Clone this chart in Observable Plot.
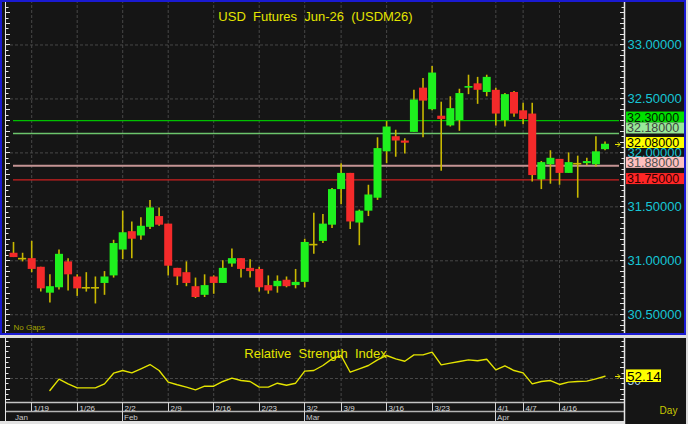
<!DOCTYPE html>
<html><head><meta charset="utf-8">
<script src="https://cdn.jsdelivr.net/npm/d3@7"></script>
<script src="https://cdn.jsdelivr.net/npm/@observablehq/plot@0.6"></script>
<style>
html,body{margin:0;padding:0;background:#dcdcdc;}
#wrap{position:relative;width:688px;height:424px;background:#dcdcdc;overflow:hidden;}
#wrap svg{position:absolute;left:0;display:block;}
#wrap svg text{white-space:pre;}
</style></head>
<body><div id="wrap"></div>
<script>
// ---------- data ----------
const opens  = [31.07,31.02,31.02,30.94,30.70,30.75,30.99,30.85,30.75,30.75,
                30.79,30.86,31.10,31.27,31.23,31.31,31.41,31.34,30.93,30.89,
                30.76,30.68,30.85,30.79,30.97,31.02,30.93,30.92,30.77,30.76,
                30.82,30.77,30.80,31.15,31.18,31.33,31.66,31.81,31.35,31.46,
                31.58,32.01,32.15,32.11,32.19,32.60,32.40,32.34,32.25,32.30,
                32.60,32.64,32.56,32.58,32.30,32.56,32.39,32.36,31.75,31.89,
                31.94,31.81,31.90,31.90,31.89,32.03];
const highs  = [31.17,31.07,31.18,30.94,30.87,31.10,31.02,30.87,30.89,30.85,
                30.90,31.19,31.46,31.36,31.40,31.56,31.49,31.34,30.93,30.99,
                30.84,30.87,30.86,31.00,31.11,31.02,31.01,30.94,30.86,30.86,
                30.85,30.92,31.20,31.44,31.43,31.67,31.90,31.81,31.47,31.70,
                32.14,32.29,32.21,32.13,32.58,32.69,32.80,32.47,32.52,32.59,
                32.72,32.70,32.72,32.60,32.55,32.57,32.46,32.46,31.92,32.02,
                31.94,32.00,31.97,31.95,32.15,32.10];
const lows   = [31.03,30.99,30.89,30.71,30.61,30.73,30.72,30.67,30.71,30.60,
                30.68,30.84,31.01,31.02,31.19,31.29,31.32,30.86,30.77,30.76,
                30.65,30.66,30.69,30.79,30.94,30.84,30.84,30.71,30.69,30.70,
                30.75,30.74,30.75,31.06,31.16,31.30,31.52,31.29,31.14,31.41,
                31.56,31.90,31.96,31.99,32.19,32.14,32.39,31.83,32.24,32.20,
                32.54,32.45,32.52,32.25,32.24,32.33,32.26,31.73,31.66,31.71,
                31.70,31.81,31.58,31.88,31.87,32.02];
const closes = [31.03,31.02,30.92,30.74,30.76,31.06,30.87,30.74,30.75,30.75,
                30.85,31.16,31.26,31.20,31.32,31.49,31.33,30.95,30.85,30.79,
                30.66,30.77,30.79,30.93,31.02,30.92,30.90,30.75,30.72,30.81,
                30.76,30.80,31.17,31.15,31.34,31.66,31.81,31.36,31.46,31.61,
                32.04,32.24,32.11,32.09,32.49,32.48,32.74,32.31,32.41,32.55,
                32.615,32.58,32.70,32.36,32.54,32.36,32.31,31.79,31.91,31.95,
                31.81,31.91,31.90,31.92,32.01,32.08];
const rsiValues = [null,null,null,null,38.7,49.4,45.0,41.2,41.2,41.2,
                   45.0,55.0,57.5,55.3,59.1,63.1,57.5,46.6,44.1,41.9,
                   39.4,42.8,42.8,47.2,50.3,48.1,47.2,41.9,41.9,45.6,
                   43.7,45.6,56.9,57.5,62.2,68.4,71.6,55.9,59.1,62.2,
                   67.5,71.6,68.4,66.2,72.2,72.2,74.7,62.8,64.4,65.9,
                   67.5,66.6,68.1,58.1,61.9,57.5,55.3,45.0,47.2,48.1,
                   44.4,46.6,47.2,47.5,49.7,52.14];
const tickIdx    = [2,7,12,17,22,27,32,36,41,46,53,56,60];
const tickLabels = ["1/19","1/26","2/2","2/9","2/16","2/23","3/2","3/9","3/16","3/23","4/1","4/7","4/16"];
const monthIdx    = [0,12,32,53];
const monthLabels = ["Jan","Feb","Mar","Apr"];
const axisPrices  = [30.5,31.0,31.5,32.0,32.5,33.0];
const levelValues = [32.30,32.18,31.88,31.75];
const rsiRef = 50;
const title = "USD  Futures  Jun-26  (USDM26)";
const rsiTitle = "Relative  Strength  Index";

// ---------- styles ----------
const FONT = '"Liberation Sans", Arial, sans-serif';
const BG = "#151515", GRID = "#474747", AXIS = "#e6e6e6", BLUE = "#1a1ad2";
const YELLOW = "#e4e400", WICK = "#c8b800", GREEN = "#1ef01e", RED = "#f42a2a", CYAN = "#16c6d6";
const levelLine = ["#00c000","#6cc46c","#c49494","#cc2020"];
const levelLineW = [1.2,1.6,2,1.2];
const lastClose = closes[closes.length-1];
const boxValues = [levelValues[0], levelValues[1], lastClose, levelValues[2], levelValues[3]];
const boxFill = ["#00e000","#98e898","#ffff00","#ffc0c0","#ff2626"];
const boxText = ["#002000","#404040","#000000","#505050","#300000"];
const boxNudge = [-3,-5,-1.3,-3,-0.8];

const W = 686;
const candles = opens.map((o,i)=>({i, o, h: highs[i], l: lows[i], c: closes[i]}));
const xDomain = [-0.879, 67.25];

function txt(g, x, y, s, fill, size) {
  return g.append("text").attr("x", x).attr("y", y).attr("text-anchor", "start")
    .attr("fill", fill).attr("font-family", FONT).attr("font-size", size).text(s);
}
function arrow(g, x, y) {
  g.append("path").attr("d", `M${x-5},${y}H${x}M${x-2.5},${y-2.5}L${x},${y}L${x-2.5},${y+2.5}`)
    .attr("stroke", YELLOW).attr("fill","none").attr("stroke-width",1);
}

// ---------- main price panel ----------
function mainChrome(index, scales, values, dims) {
  const g = d3.create("svg:g");
  const L = dims.marginLeft, R = dims.width - dims.marginRight, H = dims.height;
  g.append("line").attr("x1",L+0.5).attr("x2",L+0.5).attr("y1",2).attr("y2",H-2).attr("stroke",AXIS);
  g.append("line").attr("x1",R-0.5).attr("x2",R-0.5).attr("y1",2).attr("y2",H-2).attr("stroke",AXIS).attr("stroke-width",1.5);
  d3.range(607, 668).forEach(k => {
    const yy = Math.round(scales.y(k/20)) + 0.5;
    const len = k % 2 === 0 ? 4 : 2.5;
    g.append("line").attr("x1",R-1-len).attr("x2",R-1).attr("y1",yy).attr("y2",yy).attr("stroke",AXIS);
    g.append("line").attr("x1",L+1).attr("x2",L+1+len).attr("y1",yy).attr("y2",yy).attr("stroke",AXIS);
  });
  g.append("rect").attr("x",1).attr("y",1).attr("width",dims.width-2).attr("height",H-2)
    .attr("fill","none").attr("stroke",BLUE).attr("stroke-width",2);
  return g.node();
}
function mainBoxes(index, scales, values, dims) {
  const g = d3.create("svg:g");
  const R = dims.width - dims.marginRight;
  boxValues.forEach((v,k) => {
    const cy = scales.y(v) + boxNudge[k];
    g.append("rect").attr("x",R+1).attr("y",cy-5.5).attr("width",58).attr("height",11).attr("fill",boxFill[k]);
    txt(g, R+2, cy, v.toFixed(5), boxText[k], 12.5).attr("dy","0.36em");
  });
  arrow(g, R-5, Math.round(scales.y(lastClose))+0.5);
  return g.node();
}

const up = candles.filter(d => d.c > d.o), down = candles.filter(d => d.c < d.o), flat = candles.filter(d => d.c === d.o);

const main = Plot.plot({
  width: W, height: 335,
  marginLeft: 5, marginRight: 61, marginTop: 0, marginBottom: 0,
  style: {background: BG, fontFamily: FONT, color: YELLOW},
  x: {domain: xDomain, axis: null},
  y: {domain: [30.3077, 33.4124], axis: null},
  marks: [
    Plot.ruleY(axisPrices, {stroke: GRID, strokeDasharray: "3,2"}),
    Plot.ruleX(tickIdx, {stroke: GRID, strokeDasharray: "3,2"}),
    ...levelValues.map((v,k) => Plot.ruleY([v], {stroke: levelLine[k], strokeWidth: levelLineW[k], insetLeft: 8, insetRight: 6})),
    Plot.ruleX(candles, {x: "i", y1: "l", y2: "h", stroke: WICK, strokeWidth: 1.6}),
    Plot.ruleX(up, {x: "i", y1: "o", y2: "c", stroke: GREEN, strokeWidth: 8}),
    Plot.ruleX(down, {x: "i", y1: "o", y2: "c", stroke: RED, strokeWidth: 8}),
    Plot.ruleY(flat, {y: "c", x1: d => d.i - 0.45, x2: d => d.i + 0.45, stroke: WICK, strokeWidth: 1.6}),
    Plot.text([title], {frameAnchor: "top", dy: 11, fill: YELLOW, fontSize: 13}),
    Plot.text(["No Gaps"], {frameAnchor: "bottom-left", textAnchor: "start", dx: 8, dy: -5.5, fill: "#a4a400", fontSize: 8}),
    Plot.text(axisPrices, {y: d => d, text: d => d.toFixed(5), frameAnchor: "right", textAnchor: "start", dx: 2, fill: CYAN, fontSize: 13}),
    mainChrome,
    mainBoxes
  ]
});
main.style.top = "0px";

// ---------- RSI panel with date axis ----------
function rsiChrome(index, scales, values, dims) {
  const g = d3.create("svg:g");
  const L = dims.marginLeft, R = dims.width - dims.marginRight, H = dims.height;
  const top = H - dims.marginBottom;
  g.append("rect").attr("x",0).attr("y",top+19).attr("width",R).attr("height",3).attr("fill","#e2e2e2");
  g.append("line").attr("x1",L).attr("x2",R).attr("y1",top+0.5).attr("y2",top+0.5).attr("stroke","#c4c4c4").attr("stroke-width",1.5);
  g.append("line").attr("x1",L).attr("x2",R).attr("y1",top+9.5).attr("y2",top+9.5).attr("stroke","#b4b4b4").attr("stroke-width",1.5);
  tickIdx.forEach((t,k) => {
    const xx = Math.round(scales.x(t)) + 0.5;
    const isMonth = monthIdx.includes(t);
    g.append("line").attr("x1",xx).attr("x2",xx).attr("y1",top).attr("y2",isMonth ? top+19 : top+9).attr("stroke","#d4d4d4");
    txt(g, xx+2, top+8.5, tickLabels[k], "#d8d8d8", 8);
  });
  monthIdx.forEach((m,k) => {
    const xx = Math.round(scales.x(m)) + 0.5;
    txt(g, xx+1.5, top+17.5, monthLabels[k], "#c8c8c8", 8);
  });
  g.append("line").attr("x1",L+0.5).attr("x2",L+0.5).attr("y1",0).attr("y2",top+19).attr("stroke",AXIS);
  g.append("line").attr("x1",R-0.5).attr("x2",R-0.5).attr("y1",0).attr("y2",H).attr("stroke",AXIS).attr("stroke-width",1.5);
  d3.range(30, 90, 5).forEach(v => {
    const yy = Math.round(scales.y(v)) + 0.5;
    const len = v % 10 === 0 ? 4 : 2.5;
    g.append("line").attr("x1",R-1-len).attr("x2",R-1).attr("y1",yy).attr("y2",yy).attr("stroke",AXIS);
    g.append("line").attr("x1",L+1).attr("x2",L+1+len).attr("y1",yy).attr("y2",yy).attr("stroke",AXIS);
  });
  const last = rsiValues[rsiValues.length-1];
  const cy = scales.y(last);
  g.append("rect").attr("x",R+1).attr("y",cy-6.3).attr("width",35).attr("height",12.6).attr("fill","#ffff00");
  txt(g, R+2, cy, last.toFixed(2), "#000", 13.5).attr("dy","0.36em");
  arrow(g, R-5, Math.round(cy)+0.5);
  return g.node();
}

const rsiPlot = Plot.plot({
  width: W, height: 86,
  marginLeft: 5, marginRight: 61, marginTop: 0, marginBottom: 22,
  style: {background: BG, fontFamily: FONT, color: YELLOW},
  x: {domain: xDomain, axis: null},
  y: {domain: [27.49, 87.52], axis: null},
  marks: [
    Plot.ruleY([rsiRef], {stroke: GRID, strokeDasharray: "3,2"}),
    Plot.ruleX(tickIdx, {stroke: GRID, strokeDasharray: "3,2"}),
    Plot.line(rsiValues.map((v,i) => ({i, v})), {x: "i", y: "v", stroke: YELLOW, strokeWidth: 1.4}),
    Plot.text([rsiTitle], {frameAnchor: "top", dy: 10, fill: YELLOW, fontSize: 13}),
    Plot.text([rsiRef], {y: d => d, text: d => String(d), frameAnchor: "right", textAnchor: "start", dx: 2, dy: 3, fill: "#a8d4ec", fontSize: 12}),
    Plot.text(["Day"], {frameAnchor: "bottom-right", textAnchor: "middle", dx: 43, dy: 11, fill: "#c8c800", fontSize: 10}),
    rsiChrome
  ]
});
rsiPlot.style.top = "338px";

const wrap = document.getElementById("wrap");
wrap.appendChild(main);
wrap.appendChild(rsiPlot);
</script>
</body></html>
